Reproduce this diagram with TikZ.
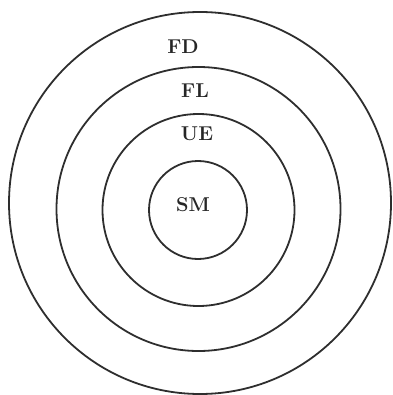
\documentclass[tikz,border=0pt]{standalone}
\begin{document}
\begin{tikzpicture}[x=1pt,y=-1pt,
  ring/.style={circle,draw=black!82,line width=1.8pt,inner sep=0pt,fill=none},
  tag/.style={font=\fontsize{20}{20}\selectfont\bfseries,text=black!85,inner sep=0pt}]
  \useasboundingbox (0,0) rectangle (392,395);
  \clip (0,0) rectangle (392,395);
  % four nested rings
  \node[ring,minimum size=382pt] (fd) at (200,203) {};
  \node[ring,minimum size=284pt] (fl) at (198.5,209) {};
  \node[ring,minimum size=192pt] (ue) at (198.5,210) {};
  \node[ring,minimum size=98pt]  (sm) at (198,210) {};
  % ring labels
  \node[tag] (tfd) at (183,47)  {FD};
  \node[tag] (tfl) at (195,91)  {FL};
  \node[tag] (tue) at (197,134) {UE};
  \node[tag] (tsm) at (193,205) {SM};
\end{tikzpicture}
\end{document}
